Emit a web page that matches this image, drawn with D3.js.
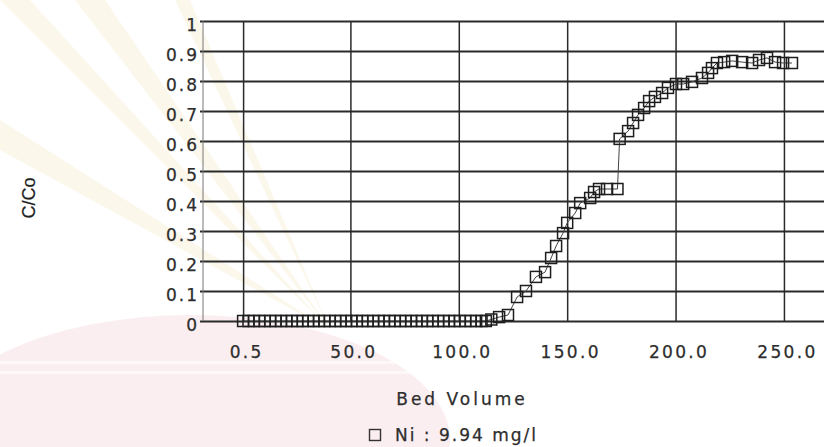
<!DOCTYPE html>
<html>
<head>
<meta charset="utf-8">
<script src="https://cdn.jsdelivr.net/npm/d3@7"></script>
<style>
  html, body { margin: 0; padding: 0; background: #fff; overflow: hidden; }
  svg { display: block; }
  text { stroke: #2d2d2d; stroke-width: 0.25px; }
</style>
</head>
<body>
<svg id="chart" width="824" height="447"></svg>
<script>
// Breakthrough curve of Ni: effluent/influent concentration vs bed volume
const bedVolume = [
  0.5, 3.0, 5.5, 8.0, 10.5, 13.0, 15.5, 18.0, 20.5, 23.0, 25.5, 28.0,
  30.5, 33.0, 35.5, 38.0, 40.5, 43.0, 45.5, 48.0, 50.5, 53.0, 55.5,
  58.0, 60.5, 63.0, 65.5, 68.0, 70.5, 73.0, 75.5, 78.0, 80.5, 83.0,
  85.5, 88.0, 90.5, 93.0, 95.5, 98.0, 100.5, 103.0, 105.5, 108.0, 110.5, 112.5,
  115.0, 118.6, 122.7, 126.9, 131.0, 135.6, 139.8, 142.6, 144.9, 148.1,
  150.0, 153.7, 156.0, 160.6, 162.4, 164.7, 168.4, 173.2,
  174.2, 178.1, 180.4, 182.7, 185.5, 187.8, 190.5, 193.8, 196.5, 200.2,
  203.5, 207.6, 212.2, 215.0, 216.8, 219.1, 222.4, 226.1, 230.7, 235.3,
  238.5, 242.2, 245.9, 249.6, 253.7
];
const ratio = [
  0, 0, 0, 0, 0, 0, 0, 0, 0, 0, 0, 0,
  0, 0, 0, 0, 0, 0, 0, 0, 0, 0, 0,
  0, 0, 0, 0, 0, 0, 0, 0, 0, 0, 0,
  0, 0, 0, 0, 0, 0, 0, 0, 0, 0, 0, 0,
  0.005, 0.013, 0.02, 0.08, 0.10, 0.147, 0.163, 0.21, 0.25, 0.293,
  0.327, 0.36, 0.393, 0.41, 0.43, 0.44, 0.44, 0.44,
  0.607, 0.633, 0.66, 0.687, 0.71, 0.733, 0.747, 0.76, 0.777, 0.79,
  0.79, 0.797, 0.81, 0.827, 0.843, 0.86, 0.863, 0.867, 0.863, 0.86,
  0.87, 0.877, 0.863, 0.86, 0.86
];
const yTickValues = [0, 0.1, 0.2, 0.3, 0.4, 0.5, 0.6, 0.7, 0.8, 0.9, 1];
const yTickLabels = ["0", "0.1", "0.2", "0.3", "0.4", "0.5", "0.6", "0.7", "0.8", "0.9", "1"];
const xTickValues = [0.5, 50, 100, 150, 200, 250];
const xTickLabels = ["0.5", "50.0", "100.0", "150.0", "200.0", "250.0"];
const xTitle = "Bed Volume";
const yTitle = "C/Co";
const seriesName = "Ni : 9.94 mg/l";

const svg = d3.select("#chart");
const box = { left: 203, right: 826, top: 21, bottom: 321 };
const x = d3.scaleLinear().domain([-18, 269.4]).range([box.left, box.right]);
const y = d3.scaleLinear().domain([0, 1]).range([box.bottom, box.top]);

const FONT = "'DejaVu Sans', sans-serif";

// faint background emblem tones
const bg = svg.append("g");
const rays = [
  [[330, 330], [0, 0], [30, 0]],
  [[330, 330], [75, 0], [105, 0]],
  [[330, 330], [175, 0], [190, 0]],
  [[330, 330], [0, 120], [0, 150]]
];
bg.selectAll("path.ray").data(rays).join("path")
  .attr("class", "ray")
  .attr("d", d => "M" + d.map(p => p.join(",")).join("L") + "Z")
  .attr("fill", "#f7efd8").attr("opacity", 0.5);
bg.append("ellipse")
  .attr("cx", 190).attr("cy", 440).attr("rx", 260).attr("ry", 125)
  .attr("fill", "#fbeef1");
bg.append("rect").attr("x", 0).attr("y", 361).attr("width", 460).attr("height", 3)
  .attr("fill", "#fff").attr("opacity", 0.6);
bg.append("rect").attr("x", 0).attr("y", 371).attr("width", 460).attr("height", 3)
  .attr("fill", "#fff").attr("opacity", 0.6);

// horizontal grid + y labels
const yAxis = d3.axisLeft(y)
  .tickValues(yTickValues)
  .tickFormat((d, i) => yTickLabels[i])
  .tickSize(-(box.right - box.left + 4))
  .tickPadding(3);
const gy = svg.append("g").attr("transform", `translate(${box.left - 3},0)`).call(yAxis);
gy.select(".domain").remove();
gy.selectAll(".tick line").attr("stroke", "#2a2a2a").attr("stroke-width", 1.9);
gy.selectAll(".tick text")
  .attr("x", -1).attr("dy", "0.55em")
  .attr("font-family", FONT).attr("font-size", 17).attr("letter-spacing", 2)
  .attr("fill", "#2d2d2d");

// vertical grid + x labels
const xAxis = d3.axisBottom(x)
  .tickValues(xTickValues)
  .tickFormat((d, i) => xTickLabels[i])
  .tickSize(-(box.bottom - box.top));
const gx = svg.append("g").attr("transform", `translate(0,${box.bottom})`).call(xAxis);
gx.select(".domain").remove();
gx.selectAll(".tick line").attr("stroke", "#2a2a2a").attr("stroke-width", 1.5);
gx.selectAll(".tick text")
  .attr("y", 36.5).attr("dy", 0).attr("dx", 3)
  .attr("font-family", FONT).attr("font-size", 17).attr("letter-spacing", 2.3)
  .attr("fill", "#2d2d2d");

// left frame edge
svg.append("line")
  .attr("x1", box.left).attr("x2", box.left)
  .attr("y1", box.top).attr("y2", box.bottom)
  .attr("stroke", "#777").attr("stroke-width", 1);

// series
const pts = bedVolume.map((v, i) => [v, ratio[i]]);
svg.append("path")
  .datum(pts)
  .attr("d", d3.line().x(d => x(d[0])).y(d => y(d[1])))
  .attr("fill", "none").attr("stroke", "#444").attr("stroke-width", 1);
const M = 11;
svg.append("g").selectAll("rect").data(pts).join("rect")
  .attr("x", d => x(d[0]) - M / 2).attr("y", d => y(d[1]) - M / 2)
  .attr("width", M).attr("height", M)
  .attr("fill", "none").attr("stroke", "#1e1e1e").attr("stroke-width", 1.5);

// axis titles
svg.append("text")
  .attr("x", 462).attr("y", 405).attr("text-anchor", "middle")
  .attr("font-family", FONT).attr("font-size", 17).attr("letter-spacing", 3)
  .attr("fill", "#2d2d2d").text(xTitle);
svg.append("text")
  .attr("transform", "translate(35,198) rotate(-90)")
  .attr("text-anchor", "middle")
  .attr("font-family", "'Liberation Sans', sans-serif").attr("font-size", 18)
  .attr("fill", "#222").text(yTitle);

// legend
const lg = svg.append("g");
lg.append("rect").attr("x", 369.5).attr("y", 429.5).attr("width", 11).attr("height", 11)
  .attr("fill", "none").attr("stroke", "#333").attr("stroke-width", 1.4);
lg.append("text")
  .attr("x", 395).attr("y", 441)
  .attr("font-family", FONT).attr("font-size", 17).attr("letter-spacing", 2)
  .attr("fill", "#2d2d2d").text(seriesName);
</script>
</body>
</html>
